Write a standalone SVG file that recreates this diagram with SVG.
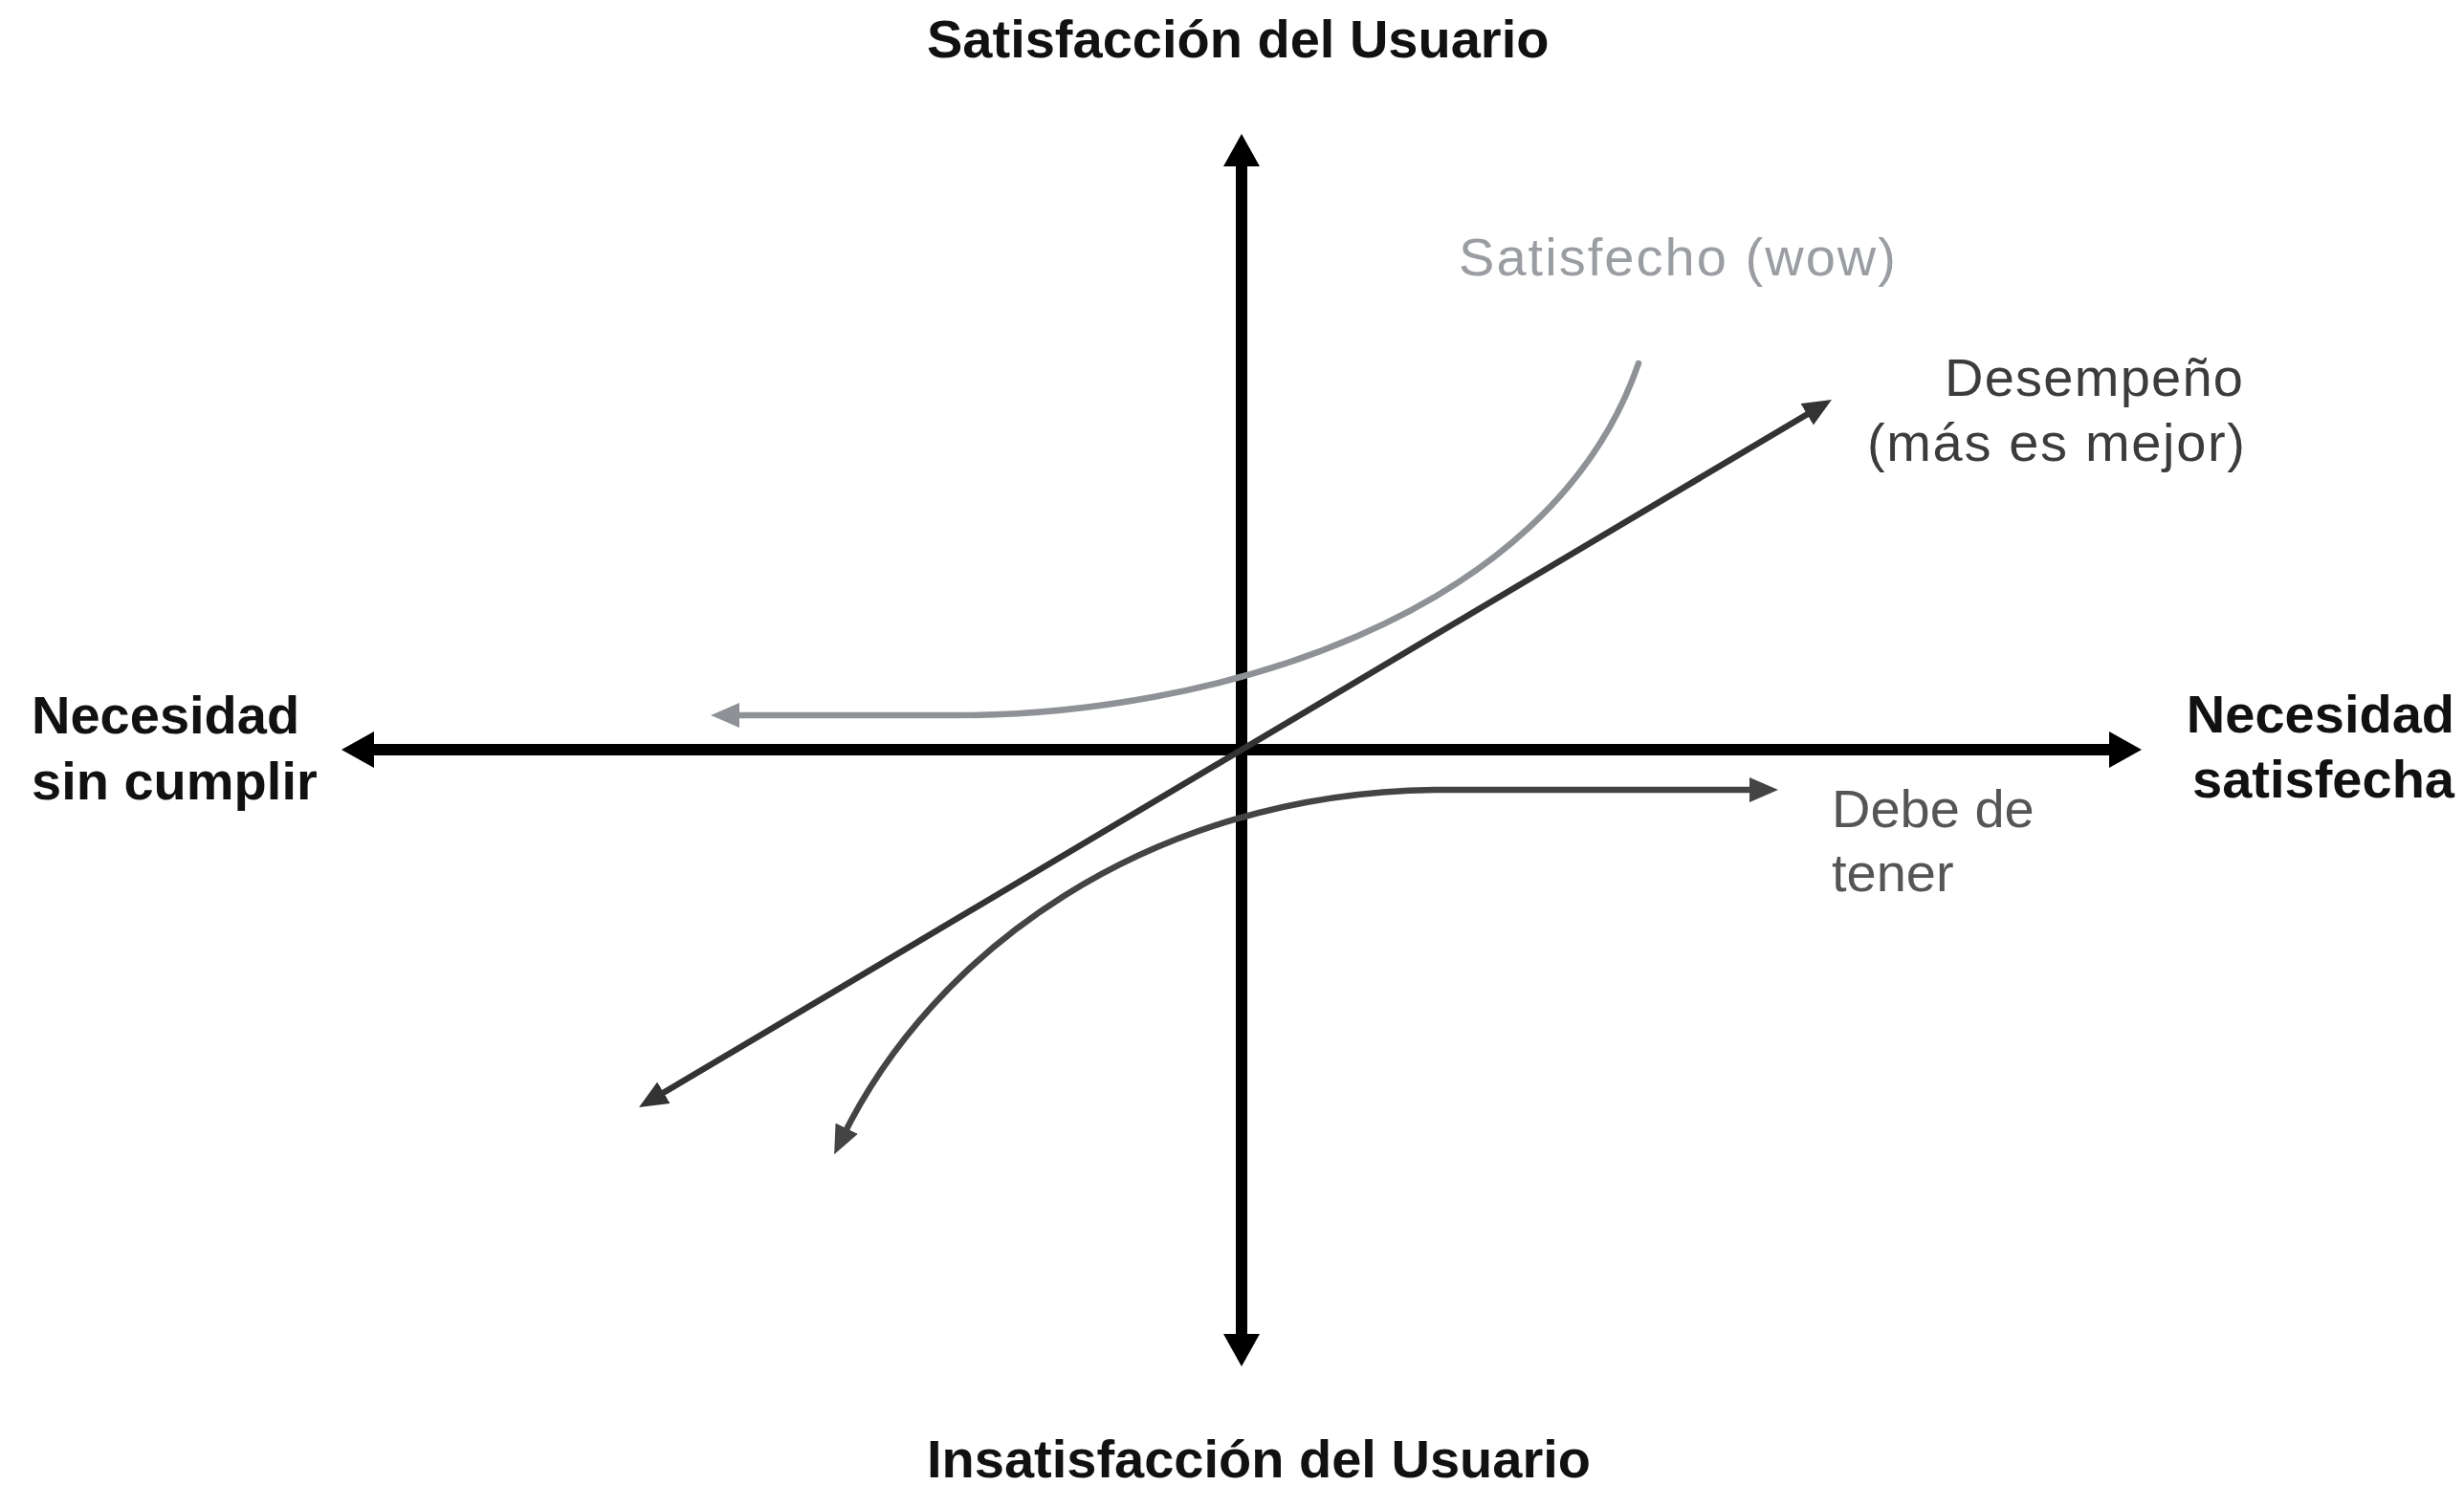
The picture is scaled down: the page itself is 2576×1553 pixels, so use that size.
<svg xmlns="http://www.w3.org/2000/svg" width="2576" height="1553" viewBox="0 0 2576 1553">
  <style>
    .bold { font-family: "Liberation Sans", Arial, sans-serif; font-weight: 700; font-size: 56px; fill: #111; }
    .reg { font-family: "Liberation Sans", Arial, sans-serif; font-weight: 400; font-size: 56px; }
    .axis { stroke: #000; stroke-width: 12; fill: none; }
    .curve { stroke-width: 6.5; fill: none; stroke-linecap: round; }
  </style>
  <defs>
    <marker id="axisHead" markerUnits="userSpaceOnUse" viewBox="0 0 34 38" refX="14" refY="19" markerWidth="34" markerHeight="38" orient="auto-start-reverse">
      <path d="M0,0 L34,19 L0,38 Z" fill="#000"/>
    </marker>
    <marker id="headDark" markerUnits="userSpaceOnUse" viewBox="0 0 30 26" refX="12" refY="13" markerWidth="30" markerHeight="26" orient="auto-start-reverse">
      <path d="M0,0 L30,13 L0,26 Z" fill="#333"/>
    </marker>
    <marker id="headMid" markerUnits="userSpaceOnUse" viewBox="0 0 30 26" refX="12" refY="13" markerWidth="30" markerHeight="26" orient="auto-start-reverse">
      <path d="M0,0 L30,13 L0,26 Z" fill="#444"/>
    </marker>
    <marker id="headGrey" markerUnits="userSpaceOnUse" viewBox="0 0 30 26" refX="12" refY="13" markerWidth="30" markerHeight="26" orient="auto-start-reverse">
      <path d="M0,0 L30,13 L0,26 Z" fill="#8e9196"/>
    </marker>
  </defs>
  <rect width="2576" height="1553" fill="#fff"/>

  <g id="connectors">
    <line id="axis-v" class="axis" x1="1298" y1="160" x2="1298" y2="1409" marker-start="url(#axisHead)" marker-end="url(#axisHead)"/>
    <line id="axis-h" class="axis" x1="377" y1="784" x2="2219" y2="784" marker-start="url(#axisHead)" marker-end="url(#axisHead)"/>
    <path id="curve-wow" class="curve" stroke="#8e9196" d="M761 748 L1000 748 C1260 748 1620 650 1713 380" marker-start="url(#headGrey)"/>
    <line id="line-desempeno" class="curve" stroke="#333" x1="683.5" y1="1148.8" x2="1899.5" y2="427.2" marker-start="url(#headDark)" marker-end="url(#headDark)"/>
    <path id="curve-debe" class="curve" stroke="#444" d="M880 1191 C975 995 1200 830 1500 826 L1841 826" marker-start="url(#headMid)" marker-end="url(#headMid)"/>
  </g>

  <g id="label-top">
    <text class="bold" x="969" y="60">Satisfacción del Usuario</text>
  </g>
  <g id="label-bottom">
    <text class="bold" x="969" y="1545">Insatisfacción del Usuario</text>
  </g>
  <g id="label-left">
    <text class="bold" x="33" y="767">Necesidad</text>
    <text class="bold" x="33" y="836">sin cumplir</text>
  </g>
  <g id="label-right">
    <text class="bold" x="2566" y="766" text-anchor="end">Necesidad</text>
    <text class="bold" x="2566" y="834" text-anchor="end">satisfecha</text>
  </g>
  <g id="label-wow">
    <text class="reg" x="1525" y="288" fill="#9a9da1" textLength="457" lengthAdjust="spacing">Satisfecho (wow)</text>
  </g>
  <g id="label-desempeno">
    <text class="reg" x="2033" y="414" fill="#3c3c3c" textLength="312" lengthAdjust="spacing">Desempeño</text>
    <text class="reg" x="1952" y="482" fill="#3c3c3c" textLength="395" lengthAdjust="spacing">(más es mejor)</text>
  </g>
  <g id="label-debe">
    <text class="reg" x="1915" y="865" fill="#555">Debe de</text>
    <text class="reg" x="1915" y="932" fill="#555">tener</text>
  </g>
</svg>
